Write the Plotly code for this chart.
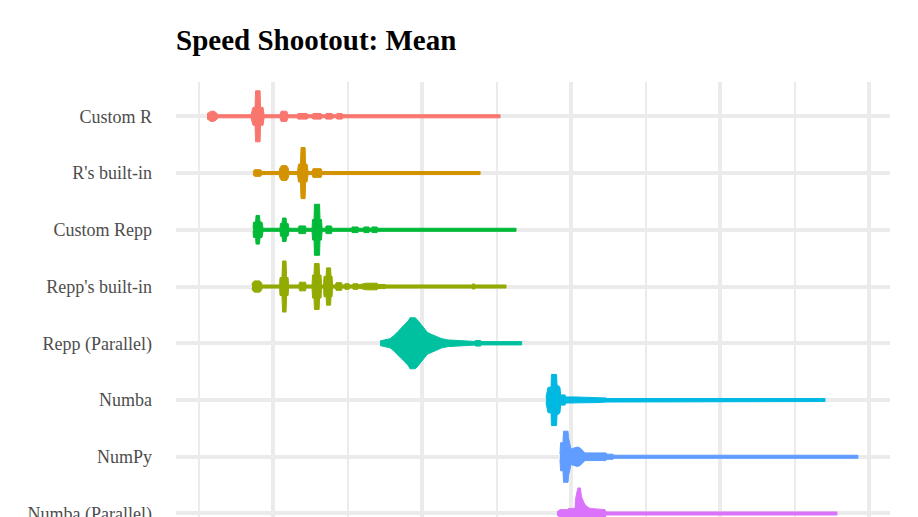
import plotly.graph_objects as go

# Categories (top to bottom) and their colours
methods = ["Custom R", "R's built-in", "Custom Repp", "Repp's built-in",
           "Repp (Parallel)", "Numba", "NumPy", "Numba (Parallel)"]
colors = ["#F8766D", "#D39200", "#00BA38", "#93AA00",
          "#00C19F", "#00B9E3", "#619CFF", "#DB72FB"]

# Density profiles: x = log10(time), d = relative density (max 1)
custom_r_x = [-0.443, -0.429, -0.416, -0.399, -0.382, -0.369, -0.148, -0.134, -0.121, -0.117, -0.087,
              -0.084, -0.067, -0.060, 0.047, 0.054, 0.091, 0.101, 0.161, 0.168, 0.228, 0.235, 0.262,
              0.268, 0.322, 0.329, 0.349, 0.356, 0.396, 0.402, 0.423, 0.429, 0.463, 0.470, 1.523]
custom_r_d = [0.10, 0.15, 0.20, 0.20, 0.15, 0.06, 0.06, 0.35, 0.35, 1.00, 1.00,
              0.35, 0.35, 0.06, 0.06, 0.20, 0.20, 0.06, 0.06, 0.11, 0.11, 0.06, 0.06,
              0.11, 0.11, 0.06, 0.06, 0.11, 0.11, 0.06, 0.06, 0.11, 0.11, 0.06, 0.06]

r_builtin_x = [-0.134, -0.124, -0.084, -0.074, 0.040, 0.047, 0.057, 0.091, 0.101, 0.107, 0.164,
               0.171, 0.184, 0.188, 0.215, 0.218, 0.228, 0.235, 0.262, 0.268, 0.322, 0.329, 1.389]
r_builtin_d = [0.06, 0.13, 0.13, 0.06, 0.06, 0.20, 0.29, 0.29, 0.20, 0.06, 0.06,
               0.35, 0.35, 1.00, 1.00, 0.35, 0.35, 0.06, 0.06, 0.17, 0.17, 0.06, 0.06]

custom_rcpp_x = [-0.134, -0.131, -0.117, -0.114, -0.091, -0.087, -0.074, -0.067, 0.047, 0.050, 0.060,
                 0.064, 0.087, 0.091, 0.101, 0.107, 0.171, 0.174, 0.218, 0.221, 0.262, 0.265, 0.275,
                 0.278, 0.312, 0.315, 0.325, 0.329, 0.352, 0.356, 0.392, 0.396, 0.527, 0.530, 0.570,
                 0.574, 0.607, 0.610, 0.644, 0.647, 0.661, 0.664, 0.698, 0.701, 1.630]
custom_rcpp_d = [0.06, 0.30, 0.30, 0.56, 0.56, 0.30, 0.30, 0.06, 0.06, 0.25, 0.25,
                 0.46, 0.46, 0.25, 0.25, 0.06, 0.06, 0.15, 0.15, 0.06, 0.06, 0.40, 0.40,
                 1.00, 1.00, 0.40, 0.40, 0.06, 0.06, 0.15, 0.15, 0.06, 0.06, 0.11, 0.11,
                 0.06, 0.06, 0.11, 0.11, 0.06, 0.06, 0.11, 0.11, 0.06, 0.06]

rcpp_builtin_x = [-0.141, -0.138, -0.124, -0.091, -0.077, -0.074, 0.044, 0.047, 0.060, 0.064, 0.087,
                  0.091, 0.101, 0.104, 0.174, 0.178, 0.218, 0.221, 0.262, 0.265, 0.275, 0.278, 0.309,
                  0.312, 0.322, 0.325, 0.339, 0.342, 0.356, 0.359, 0.386, 0.389, 0.396, 0.399, 0.419,
                  0.423, 0.460, 0.463, 0.480, 0.483, 0.510, 0.513, 0.533, 0.537, 0.570, 0.574, 0.584,
                  0.624, 0.698, 0.704, 0.751, 0.758, 1.335, 1.338, 1.352, 1.355, 1.563]
rcpp_builtin_d = [0.06, 0.15, 0.22, 0.22, 0.15, 0.06, 0.06, 0.35, 0.35, 1.00, 1.00,
                  0.35, 0.35, 0.06, 0.06, 0.17, 0.17, 0.06, 0.06, 0.45, 0.45, 0.90, 0.90,
                  0.45, 0.45, 0.06, 0.06, 0.40, 0.40, 0.73, 0.73, 0.40, 0.40, 0.06, 0.06,
                  0.15, 0.15, 0.06, 0.06, 0.11, 0.11, 0.06, 0.06, 0.11, 0.11, 0.06, 0.08,
                  0.13, 0.13, 0.08, 0.08, 0.06, 0.06, 0.10, 0.10, 0.06, 0.06]

rcpp_par_x = [0.718, 0.751, 0.785, 0.807, 0.825, 0.841, 0.857, 0.874, 0.892, 0.908, 0.919, 0.953,
              0.968, 0.986, 1.004, 1.020, 1.035, 1.053, 1.075, 1.109, 1.132, 1.176, 1.299, 1.355,
              1.358, 1.393, 1.395, 1.668]
rcpp_par_d = [0.09, 0.13, 0.18, 0.28, 0.37, 0.47, 0.58, 0.67, 0.76, 0.88, 1.00, 1.00,
              0.92, 0.80, 0.67, 0.54, 0.43, 0.37, 0.32, 0.24, 0.18, 0.13, 0.09, 0.07,
              0.11, 0.11, 0.065, 0.065]

numba_x = [1.831, 1.845, 1.865, 1.868, 1.902, 1.905, 1.925, 1.929, 1.959, 1.962, 2.026, 2.180,
           2.234, 2.240, 3.703]
numba_d = [0.10, 0.50, 0.50, 1.00, 1.00, 0.60, 0.50, 0.20, 0.20, 0.12, 0.12, 0.10,
           0.08, 0.06, 0.06]

numpy_x = [1.925, 1.929, 1.945, 1.949, 1.979, 1.982, 1.999, 2.026, 2.039, 2.059, 2.073, 2.093,
           2.234, 2.240, 2.281, 2.287, 3.924]
numpy_d = [0.10, 0.55, 0.55, 1.00, 1.00, 0.75, 0.30, 0.35, 0.38, 0.35, 0.25, 0.15,
           0.15, 0.10, 0.10, 0.06, 0.06]

numba_par_x = [1.905, 1.925, 1.979, 1.982, 2.026, 2.029, 2.039, 2.046, 2.062, 2.069, 2.086, 2.099,
               2.126, 2.200, 2.227, 2.234, 3.783]
numba_par_d = [0.06, 0.15, 0.15, 0.20, 0.20, 0.55, 0.85, 1.00, 1.00, 0.65, 0.42, 0.30,
               0.20, 0.17, 0.15, 0.06, 0.06]

profiles = [(custom_r_x, custom_r_d), (r_builtin_x, r_builtin_d),
            (custom_rcpp_x, custom_rcpp_d), (rcpp_builtin_x, rcpp_builtin_d),
            (rcpp_par_x, rcpp_par_d), (numba_x, numba_d),
            (numpy_x, numpy_d), (numba_par_x, numba_par_d)]

HALF = 0.45  # ggplot violin width 0.9

fig = go.Figure()
for i, ((xs, ds), name, col) in enumerate(zip(profiles, methods, colors)):
    top = [i - HALF * d for d in ds]
    bot = [i + HALF * d for d in ds]
    fig.add_trace(go.Scatter(
        x=list(xs) + list(xs)[::-1],
        y=top + bot[::-1],
        fill="toself", fillcolor=col, mode="lines",
        line=dict(color=col, width=1), name=name, showlegend=False,
        hoverinfo="name"))

fig.update_layout(
    width=918, height=517,
    margin=dict(l=176, r=28, t=82, b=0),
    plot_bgcolor="white", paper_bgcolor="white",
    title=dict(text="<b>Speed Shootout: Mean</b>", x=0, xref="paper", xanchor="left",
               y=1 - 40 / 517, yref="container", yanchor="middle",
               font=dict(family="Liberation Serif", size=29, color="black")),
    xaxis=dict(range=[-0.651, 4.139], tickmode="array", tickvals=[0, 1, 2, 3, 4],
               showticklabels=False, ticks="", showline=False, zeroline=False,
               automargin=False,
               showgrid=True, gridcolor="#EBEBEB", gridwidth=4,
               minor=dict(tickmode="array", tickvals=[-0.5, 0.5, 1.5, 2.5, 3.5],
                          showgrid=True, gridcolor="#EBEBEB", gridwidth=2)),
    yaxis=dict(range=[7.062, -0.6045], tickmode="array", tickvals=list(range(len(methods))),
               ticktext=methods, ticks="", ticklabelstandoff=23, ticklabeloverflow="allow",
               showline=False, zeroline=False, automargin=False,
               showgrid=True, gridcolor="#EBEBEB", gridwidth=4,
               tickfont=dict(family="Liberation Serif", size=18, color="#4D4D4D")),
)

fig.write_html("out.html")
